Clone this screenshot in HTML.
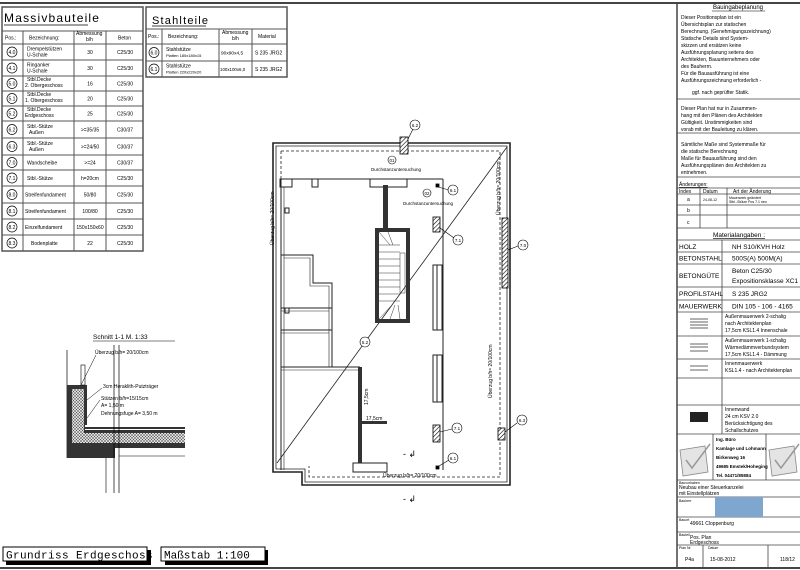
<!DOCTYPE html>
<html><head><meta charset="utf-8"><style>
html,body{margin:0;padding:0;background:#fff;}
svg{display:block;font-family:"Liberation Sans",sans-serif;}
.t{font-size:5px;fill:#000;}
.m{font-size:6px;fill:#000;}
.r{font-size:6.5px;fill:#000;}
</style></head><body>
<svg width="800" height="570" viewBox="0 0 800 570" xmlns="http://www.w3.org/2000/svg">
<defs>
<pattern id="h" width="3" height="3" patternUnits="userSpaceOnUse" patternTransform="rotate(45)"><rect width="3" height="3" fill="#fff"/><line x1="0" y1="0" x2="0" y2="3" stroke="#000" stroke-width="1.2"/></pattern>
<pattern id="x" width="3" height="3" patternUnits="userSpaceOnUse"><rect width="3" height="3" fill="#ddd"/><path d="M0 0L3 3M3 0L0 3" stroke="#555" stroke-width="0.5"/></pattern>
</defs>
<!-- frame -->
<line x1="0" y1="3" x2="800" y2="3" stroke="#444" stroke-width="2"/>
<line x1="0" y1="568" x2="800" y2="568" stroke="#444" stroke-width="2"/>
<line x1="677" y1="3" x2="677" y2="568" stroke="#444" stroke-width="1.5"/>

<!-- Massivbauteile -->
<g stroke="#555" stroke-width="1" fill="none">
<rect x="2" y="7" width="141" height="244" stroke-width="1.5"/>
<line x1="2" y1="31" x2="143" y2="31"/>
<line x1="2" y1="44" x2="143" y2="44"/>
<line x1="2" y1="60" x2="143" y2="60"/><line x1="2" y1="76" x2="143" y2="76"/>
<line x1="2" y1="91" x2="143" y2="91"/><line x1="2" y1="106" x2="143" y2="106"/>
<line x1="2" y1="121" x2="143" y2="121"/><line x1="2" y1="138" x2="143" y2="138"/>
<line x1="2" y1="155" x2="143" y2="155"/><line x1="2" y1="170" x2="143" y2="170"/>
<line x1="2" y1="186" x2="143" y2="186"/><line x1="2" y1="203" x2="143" y2="203"/>
<line x1="2" y1="219" x2="143" y2="219"/><line x1="2" y1="235" x2="143" y2="235"/>
<line x1="23" y1="31" x2="23" y2="251"/><line x1="74" y1="31" x2="74" y2="251"/>
<line x1="106" y1="31" x2="106" y2="251"/>
</g>
<text x="4" y="22" style="font-size:12px;letter-spacing:1.2px" fill="#000">Massivbauteile</text>
<line x1="4" y1="25" x2="88" y2="25" stroke="#000" stroke-width="0.8"/>
<text x="5" y="39.5" class="t">Pos.:</text><text x="29" y="39.5" class="t">Bezeichnung:</text>
<text x="76" y="35" class="t">Abmessung</text><text x="86" y="41" class="t">b/h</text><text x="118" y="39.5" class="t">Beton</text>
<g stroke="#000" stroke-width="0.7" fill="none">
<circle cx="12" cy="52" r="5"/><circle cx="12" cy="68" r="5"/><circle cx="12" cy="83.5" r="5"/><circle cx="12" cy="98.5" r="5"/><circle cx="12" cy="113.5" r="5"/><circle cx="12" cy="129.5" r="5"/><circle cx="12" cy="146.5" r="5"/><circle cx="12" cy="162.5" r="5"/><circle cx="12" cy="178" r="5"/><circle cx="12" cy="194.5" r="5"/><circle cx="12" cy="211" r="5"/><circle cx="12" cy="227" r="5"/><circle cx="12" cy="243" r="5"/>
</g>
<g class="t" text-anchor="middle">
<text x="12" y="54">4.0</text><text x="12" y="70">4.1</text><text x="12" y="85.5">5.0</text><text x="12" y="100.5">5.1</text><text x="12" y="115.5">5.2</text><text x="12" y="131.5">6.2</text><text x="12" y="148.5">6.3</text><text x="12" y="164.5">7.0</text><text x="12" y="180">7.1</text><text x="12" y="196.5">8.0</text><text x="12" y="213">8.1</text><text x="12" y="229">8.2</text><text x="12" y="245">8.3</text>
<text x="90" y="54">30</text><text x="90" y="70">30</text><text x="90" y="85.5">16</text><text x="90" y="100.5">20</text><text x="90" y="115.5">25</text><text x="90" y="131.5">&gt;=35/35</text><text x="90" y="148.5">&gt;=24/50</text><text x="90" y="164.5">&gt;=24</text><text x="90" y="180">h=20cm</text><text x="90" y="196.5">50/80</text><text x="90" y="213">100/80</text><text x="90" y="229">150x150x60</text><text x="90" y="245">22</text>
<text x="125" y="54">C25/30</text><text x="125" y="70">C25/30</text><text x="125" y="85.5">C25/30</text><text x="125" y="100.5">C25/30</text><text x="125" y="115.5">C25/30</text><text x="125" y="131.5">C30/37</text><text x="125" y="148.5">C30/37</text><text x="125" y="164.5">C30/37</text><text x="125" y="180">C25/30</text><text x="125" y="196.5">C25/30</text><text x="125" y="213">C25/30</text><text x="125" y="229">C25/30</text><text x="125" y="245">C25/30</text>
</g>
<g class="t">
<text x="27" y="50.5">Drempelstützen</text><text x="27" y="56.5">U-Schale</text>
<text x="27" y="66.5">Ringanker</text><text x="27" y="72.5">U-Schale</text>
<text x="27" y="81">Stbl.Decke</text><text x="25" y="87">2. Obergeschoss</text>
<text x="27" y="96">Stbl.Decke</text><text x="25" y="102">1. Obergeschoss</text>
<text x="27" y="111">Stbl.Decke</text><text x="25" y="117">Erdgeschoss</text>
<text x="27" y="128">Stbl.-Stütze</text><text x="29" y="134">Außen</text>
<text x="27" y="145">Stbl.-Stütze</text><text x="29" y="151">Außen</text>
<text x="27" y="164.5">Wandscheibe</text>
<text x="27" y="180">Stbl.-Stütze</text>
<text x="25" y="196.5">Streifenfundament</text>
<text x="25" y="213">Streifenfundament</text>
<text x="25" y="229">Einzelfundament</text>
<text x="31" y="245">Bodenplatte</text>
</g>

<!-- Stahlteile -->
<g stroke="#555" stroke-width="1" fill="none">
<rect x="146" y="7" width="141" height="70" stroke-width="1.5"/>
<line x1="146" y1="29" x2="287" y2="29"/><line x1="146" y1="44" x2="287" y2="44"/><line x1="146" y1="61" x2="287" y2="61"/>
<line x1="162" y1="29" x2="162" y2="77"/><line x1="219" y1="29" x2="219" y2="77"/><line x1="252" y1="29" x2="252" y2="77"/>
</g>
<text x="152" y="24" style="font-size:11px;letter-spacing:1.2px" fill="#000">Stahlteile</text>
<line x1="152" y1="26" x2="206" y2="26" stroke="#000" stroke-width="0.8"/>
<text x="148" y="38" class="t">Pos.:</text><text x="168" y="38" class="t">Bezeichnung:</text><text x="222" y="34" class="t">Abmessung</text><text x="232" y="40" class="t">b/h</text><text x="258" y="38" class="t">Material</text>
<circle cx="154" cy="52.5" r="5" fill="none" stroke="#000" stroke-width="0.7"/><circle cx="154" cy="69" r="5" fill="none" stroke="#000" stroke-width="0.7"/>
<text x="154" y="54.5" class="t" text-anchor="middle">6.0</text><text x="154" y="71" class="t" text-anchor="middle">6.1</text>
<text x="166" y="51" class="t">Stahlstütze</text><text x="166" y="57" style="font-size:4px">Platten 180x180x15</text>
<text x="166" y="67.5" class="t">Stahlstütze</text><text x="166" y="73.5" style="font-size:4px">Platten 220x220x20</text>
<text x="221" y="54.5" style="font-size:4.8px">90x90x4,5</text><text x="220" y="71" style="font-size:4.4px">100x100x6,0</text>
<text x="255" y="54.5" class="t">S 235 JRG2</text><text x="255" y="71" class="t">S 235 JRG2</text>

<!-- Floor plan -->
<g fill="none" stroke="#222" stroke-width="1">
<path d="M273 143 H510 V485 H302 V472 H273 Z" stroke-width="1.6"/>
<path d="M276 146 H507 V482 H305 V469 H276 Z" stroke-width="0.8"/>
<path d="M281 151 H500 V477 H309 V466" stroke-dasharray="3,2" stroke-width="0.8"/>
<path d="M281 151 V262" stroke-dasharray="3,2" stroke-width="0.8"/>
<line x1="281" y1="179" x2="443" y2="179"/>
<line x1="443" y1="179" x2="443" y2="470"/>
<line x1="281" y1="179" x2="281" y2="470"/>
<line x1="284" y1="187" x2="284" y2="470" stroke-width="0.6"/>
<rect x="280" y="179" width="12" height="8"/><rect x="312" y="179" width="6" height="8"/><rect x="370" y="179" width="37" height="8"/>
<rect x="285" y="208" width="4" height="5"/>
<path d="M281 255 H313 V283 H332 V367"/><path d="M284 258 H310 V286 H329 V367" stroke-width="0.6"/>
<line x1="281" y1="308" x2="332" y2="308"/><line x1="281" y1="330" x2="332" y2="330"/>
<line x1="281" y1="311" x2="329" y2="311" stroke-width="0.5"/><line x1="281" y1="333" x2="329" y2="333" stroke-width="0.5"/>
<line x1="281" y1="367" x2="360" y2="367"/><line x1="281" y1="370" x2="358" y2="370" stroke-width="0.5"/>
<rect x="285" y="308" width="4" height="5"/>
<rect x="353" y="463" width="34" height="9"/>
<rect x="433" y="265" width="9" height="65"/><line x1="437" y1="265" x2="437" y2="330"/>
<rect x="433" y="355" width="9" height="47"/><line x1="437" y1="355" x2="437" y2="402"/>
<line x1="277" y1="463" x2="507" y2="147" stroke-width="0.8"/>
</g>
<rect x="383" y="185" width="5" height="43" fill="#333"/>
<rect x="358" y="367" width="4" height="96" fill="#333"/>
<rect x="360" y="421" width="27" height="3" fill="#333"/>
<path d="M375 228 H410 V323 H375 Z M379 232 V319 H406 V232 Z" fill="#333" fill-rule="evenodd"/>
<g stroke="#333" stroke-width="0.5" fill="none">
<line x1="379" y1="245" x2="400" y2="245"/><line x1="379" y1="252" x2="400" y2="252"/><line x1="379" y1="259" x2="400" y2="259"/><line x1="379" y1="266" x2="400" y2="266"/><line x1="379" y1="273" x2="400" y2="273"/><line x1="379" y1="280" x2="400" y2="280"/><line x1="379" y1="287" x2="400" y2="287"/><line x1="379" y1="294" x2="400" y2="294"/><line x1="379" y1="301" x2="400" y2="301"/>
<path d="M379 232 L390 245 M388 232 L393 245 M379 319 L392 305 M390 319 L395 305 M400 319 L398 305"/>
<rect x="400" y="253" width="5" height="40"/>
</g>
<g stroke="#000" stroke-width="0.8">
<rect x="400" y="137" width="8" height="17" fill="url(#h)"/>
<rect x="502" y="218" width="6" height="70" fill="url(#h)"/>
<rect x="498" y="428" width="7" height="12" fill="url(#h)"/>
<rect x="433" y="217" width="7" height="15" fill="url(#h)"/>
<rect x="433" y="425" width="7" height="17" fill="url(#h)"/>
<rect x="436" y="184" width="3" height="3" fill="#000"/>
<rect x="436" y="466" width="3" height="3" fill="#000"/>
</g>
<g fill="#fff" stroke="#000" stroke-width="0.6">
<line x1="408" y1="139" x2="413" y2="129"/>
<circle cx="415" cy="125" r="5"/><circle cx="392" cy="160" r="4"/><circle cx="427" cy="193" r="4"/>
<line x1="438" y1="187" x2="449" y2="190"/><circle cx="453" cy="190" r="5"/>
<line x1="440" y1="228" x2="454" y2="238"/><circle cx="458" cy="240" r="5"/>
<line x1="508" y1="250" x2="518" y2="246"/><circle cx="523" cy="245" r="5"/>
<line x1="505" y1="432" x2="517" y2="423"/><circle cx="522" cy="420" r="5"/>
<line x1="440" y1="432" x2="452" y2="429"/><circle cx="457" cy="428" r="5"/>
<line x1="439" y1="466" x2="449" y2="460"/><circle cx="453" cy="458" r="5"/>
<circle cx="365" cy="342" r="5"/>
</g>
<g style="font-size:4.5px" text-anchor="middle" fill="#000">
<text x="415" y="127">6.2</text><text x="392" y="162">01</text><text x="427" y="195">02</text><text x="453" y="192">6.1</text><text x="458" y="242">7.1</text><text x="523" y="247">7.0</text><text x="522" y="422">6.3</text><text x="457" y="430">7.1</text><text x="453" y="460">6.1</text><text x="365" y="344">5.2</text>
<text x="396" y="171">Durchstanzuntersuchung</text><text x="428" y="205">Durchstanzuntersuchung</text>
</g>
<g style="font-size:5px" fill="#000">
<text transform="translate(274,245) rotate(-90)">Überzug b/h= 20/100cm</text>
<text transform="translate(500,215) rotate(-90)">Überzug b/h= 20/100cm</text>
<text transform="translate(492,398) rotate(-90)">Überzug b/h= 20/100cm</text>
<text x="383" y="477">Überzug b/h= 20/100cm</text>
<text transform="translate(368,405) rotate(-90)">17,5cm</text>
<text x="366" y="420">17,5cm</text>
</g>
<g style="font-size:9px" fill="#000"><text x="403" y="457">- ↲</text><text x="403" y="502">- ↲</text></g>

<!-- section detail -->
<text x="93" y="339" class="r">Schnitt 1-1 M. 1:33</text>
<line x1="93" y1="341" x2="175" y2="341" stroke="#000" stroke-width="0.6"/>
<line x1="67" y1="350" x2="67" y2="458" stroke="#000" stroke-width="0.7"/>
<path d="M67 385 H87 V425 H185 V448 H115 V458 H67 Z" fill="#333"/>
<path d="M72 389 H84 V433 H185 V443 H72 Z" fill="url(#x)"/>
<rect x="85" y="425" width="100" height="2" fill="#fff"/>
<rect x="85" y="429" width="100" height="1" fill="#fff"/>
<line x1="114" y1="345" x2="114" y2="493" stroke="#000" stroke-width="0.7"/>
<line x1="119" y1="345" x2="119" y2="493" stroke="#000" stroke-width="0.7"/>
<rect x="115" y="345" width="3" height="79" fill="#fff"/>
<line x1="106" y1="458" x2="106" y2="493" stroke="#000" stroke-width="0.6"/>
<line x1="119" y1="456" x2="185" y2="456" stroke="#000" stroke-width="0.6"/>
<rect x="81" y="365" width="4" height="20" fill="none" stroke="#000" stroke-width="0.6"/>
<path d="M81 385 L96 355 M87 400 L102 388 M87 418 L100 400" stroke="#000" stroke-width="0.5" fill="none"/>
<g style="font-size:5px" fill="#000">
<text x="95" y="354">Überzug b/h= 20/100cm</text>
<text x="103" y="388">3cm Heraklith-Putzträger</text>
<text x="101" y="400">Stützen b/h=15/15cm</text>
<text x="101" y="407">A= 1,50 m</text>
<text x="101" y="415">Dehnungsfuge A= 3,50 m</text>
</g>

<!-- bottom title -->
<rect x="6" y="550" width="145" height="15" fill="#000"/>
<rect x="3" y="547" width="144" height="14" fill="#fff" stroke="#000"/>
<text x="6" y="558.5" style="font-size:11px;font-family:'Liberation Mono',monospace;letter-spacing:0.4px" fill="#000">Grundriss Erdgeschoss</text>
<rect x="165" y="550" width="103" height="15" fill="#000"/>
<rect x="161" y="547" width="104" height="14" fill="#fff" stroke="#000"/>
<text x="164" y="558.5" style="font-size:11px;font-family:'Liberation Mono',monospace" fill="#000">Maßstab 1:100</text>

<!-- right panel -->
<g stroke="#444" stroke-width="0.8">
<line x1="677" y1="99" x2="800" y2="99"/><line x1="677" y1="133" x2="800" y2="133"/><line x1="677" y1="177" x2="800" y2="177"/>
<line x1="677" y1="188" x2="800" y2="188"/><line x1="677" y1="194" x2="800" y2="194"/><line x1="677" y1="205" x2="800" y2="205"/><line x1="677" y1="215" x2="800" y2="215"/><line x1="677" y1="228" x2="800" y2="228"/>
<line x1="700" y1="188" x2="700" y2="228"/><line x1="727" y1="188" x2="727" y2="228"/>
<line x1="677" y1="240" x2="800" y2="240"/><line x1="677" y1="252" x2="800" y2="252"/><line x1="677" y1="264" x2="800" y2="264"/><line x1="677" y1="287" x2="800" y2="287"/><line x1="677" y1="300" x2="800" y2="300"/><line x1="677" y1="312" x2="800" y2="312"/><line x1="677" y1="336" x2="800" y2="336"/><line x1="677" y1="359" x2="800" y2="359"/><line x1="677" y1="378" x2="800" y2="378"/><line x1="677" y1="405" x2="800" y2="405"/><line x1="677" y1="434" x2="800" y2="434"/><line x1="677" y1="480" x2="800" y2="480"/><line x1="677" y1="497" x2="800" y2="497"/><line x1="677" y1="517" x2="800" y2="517"/><line x1="677" y1="532" x2="800" y2="532"/><line x1="677" y1="545" x2="800" y2="545"/>
<line x1="722" y1="240" x2="722" y2="434"/>
<line x1="713" y1="434" x2="713" y2="480"/><line x1="766" y1="434" x2="766" y2="480"/>
<line x1="703" y1="545" x2="703" y2="568"/><line x1="768" y1="545" x2="768" y2="568"/>
</g>
<text x="738" y="9" class="m" text-anchor="middle">Bauingabeplanung</text>
<line x1="712" y1="11" x2="765" y2="11" stroke="#000" stroke-width="0.5"/>
<g class="t">
<text x="681" y="19">Dieser Positionsplan ist ein</text>
<text x="681" y="26">Übersichtsplan zur statischen</text>
<text x="681" y="33">Berechnung. (Genehmigungszeichnung)</text>
<text x="681" y="40">Statische Details sind System-</text>
<text x="681" y="47">skizzen und ersätzen keine</text>
<text x="681" y="54">Ausführungsplanung seitens des</text>
<text x="681" y="61">Architekten, Bauunternehmers oder</text>
<text x="681" y="68">des Bauherrn.</text>
<text x="681" y="75">Für die Bauausführung ist eine</text>
<text x="681" y="82">Ausführungszeichnung erforderlich -</text>
<text x="692" y="94">ggf. nach geprüfter Statik.</text>
<text x="681" y="110">Dieser Plan hat nur in Zusammen-</text>
<text x="681" y="117">hang mit den Plänen des Architekten</text>
<text x="681" y="124">Gültigkeit.  Unstimmigkeiten sind</text>
<text x="681" y="131">vorab mit der Bauleitung zu klären.</text>
<text x="681" y="146">Sämtliche Maße sind Systemmaße für</text>
<text x="681" y="153">die statische Berechnung</text>
<text x="681" y="160">Maße für Bauausführung sind den</text>
<text x="681" y="167">Ausführungsplänen des Architekten zu</text>
<text x="681" y="174">entnehmen.</text>
<text x="679" y="186" text-decoration="underline">Änderungen:</text>
<text x="679" y="193">Index</text><text x="703" y="193">Datum</text><text x="733" y="193">Art der Änderung</text>
<text x="687" y="201">a</text><text x="703" y="201" style="font-size:3.5px">24-08-12</text>
<text x="729" y="199" style="font-size:3.5px">Mauerwerk geändert</text><text x="729" y="203" style="font-size:3.5px">Stbl.-Stütze Pos 7.1 neu</text>
<text x="687" y="212">b</text><text x="687" y="224">c</text>
</g>
<text x="739" y="237" class="r" text-anchor="middle" text-decoration="underline">Materialangaben :</text>
<g class="r">
<text x="679" y="249">HOLZ</text><text x="732" y="249">NH S10/KVH Holz</text>
<text x="679" y="260.5">BETONSTAHL</text><text x="732" y="260.5">500S(A) 500M(A)</text>
<text x="679" y="278">BETONGÜTE</text><text x="732" y="273">Beton C25/30</text><text x="732" y="283">Expositionsklasse XC1</text>
<text x="679" y="296">PROFILSTAHL</text><text x="732" y="296">S 235 JRG2</text>
<text x="679" y="308.5">MAUERWERK</text><text x="732" y="308.5">DIN 105 - 106 - 4165</text>
</g>
<g class="t">
<text x="725" y="318">Außenmauerwerk 2-schalig</text><text x="725" y="325">nach Architektenplan</text><text x="725" y="332">17,5cm KSL1.4 Innenschale</text>
<text x="725" y="342">Außenmauerwerk 1-schalig</text><text x="725" y="349">Wärmedämmverbundsystem</text><text x="725" y="356">17,5cm KSL1.4 - Dämmung</text>
<text x="725" y="365">Innenmauerwerk</text><text x="725" y="372">KSL1.4 - nach Architektenplan</text>
<text x="725" y="411">Innenwand</text><text x="725" y="418">24 cm KSV 2.0</text><text x="725" y="425">Berücksichtigung des</text><text x="725" y="432">Schallschutzes</text>
</g>
<g stroke="#333" stroke-width="0.7">
<line x1="690" y1="319" x2="708" y2="319"/><line x1="690" y1="322" x2="708" y2="322"/><line x1="690" y1="325" x2="708" y2="325"/><line x1="690" y1="328" x2="708" y2="328"/>
<line x1="690" y1="344" x2="708" y2="344"/><line x1="690" y1="347" x2="708" y2="347"/><line x1="690" y1="351" x2="708" y2="351"/>
<line x1="690" y1="366" x2="708" y2="366"/><line x1="690" y1="370" x2="708" y2="370"/>
</g>
<rect x="690" y="412" width="18" height="10" fill="#222"/>
<g stroke="#888" fill="#e4e4e4" stroke-width="0.8">
<path d="M680 450 L705 446 L708 472 L683 476 Z"/><path d="M769 450 L794 446 L797 472 L772 476 Z"/>
</g>
<path d="M686 460 L692 468 L710 444 M775 460 L781 468 L799 444" stroke="#999" stroke-width="1.5" fill="none"/>
<g style="font-size:4.5px;font-weight:bold" fill="#000">
<text x="716" y="441">Ing. Büro</text><text x="716" y="450">Kamlage und Lohmann</text><text x="716" y="459">Birkenweg 16</text><text x="716" y="468">49685 Emstek/Hoheging</text><text x="716" y="477">Tel. 04471/85884</text>
</g>
<g class="t">
<text x="679" y="484" style="font-size:3.5px">Bauvorhaben</text><text x="679" y="489">Neubau einer Steuerkanzelei</text><text x="679" y="495">mit Einstellplätzen</text>
<text x="679" y="502" style="font-size:3.5px">Bauherr</text>
<text x="679" y="521" style="font-size:3.5px">Bauort</text><text x="690" y="525">49661 Cloppenburg</text>
<text x="679" y="536" style="font-size:3.5px">Bauteil</text><text x="690" y="539">Pos. Plan</text><text x="690" y="544">Erdgeschoss</text>
<text x="679" y="549" style="font-size:3.5px">Plan Nr</text><text x="708" y="549" style="font-size:3.5px">Datum</text>
<text x="685" y="561">P4a</text><text x="710" y="561">15-08-2012</text><text x="780" y="561">118/12</text>
</g>
<rect x="715" y="497" width="48" height="20" fill="#7fa6cf"/>
</svg>
</body></html>
